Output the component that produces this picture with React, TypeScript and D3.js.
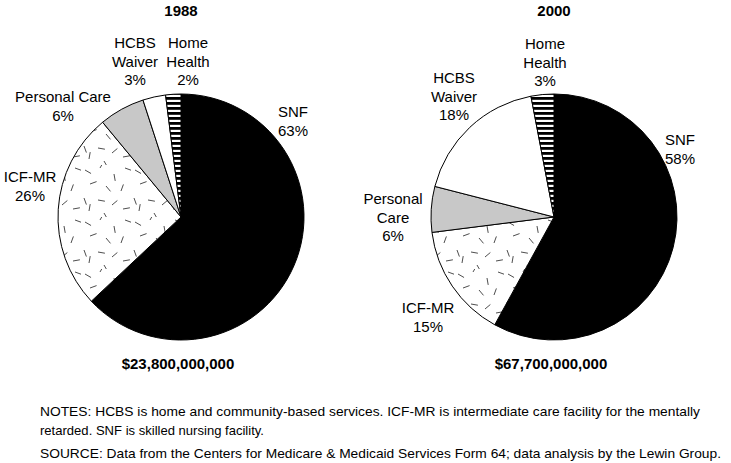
import React from "react";
import * as d3 from "d3";

// slice order, clockwise from 12 o'clock
const categories = ["SNF", "ICF-MR", "Personal Care", "HCBS Waiver", "Home Health"];
const values1988 = [63, 26, 6, 3, 2];
const values2000 = [58, 15, 6, 18, 3];
const years = ["1988", "2000"];
const totals = ["$23,800,000,000", "$67,700,000,000"];

// label lines per slice, per year
const labels1988 = [["SNF", "63%"], ["ICF-MR", "26%"], ["Personal Care", "6%"], ["HCBS", "Waiver", "3%"], ["Home", "Health", "2%"]];
const labels2000 = [["SNF", "58%"], ["ICF-MR", "15%"], ["Personal", "Care", "6%"], ["HCBS", "Waiver", "18%"], ["Home", "Health", "3%"]];

const notes = [
  "NOTES: HCBS is home and community-based services. ICF-MR is intermediate care facility for the mentally",
  "retarded. SNF is skilled nursing facility.",
];
const source = "SOURCE: Data from the Centers for Medicare & Medicaid Services Form 64; data analysis by the Lewin Group.";

const W = 731;
const H = 463;
const R = 123;
const FONT = "'Liberation Sans', Arial, Helvetica, sans-serif";

const fills = ["#000", "url(#dashes)", "#c8c8c8", "#fff", "url(#stripes)"];

// label anchors (x, first baseline) relative to the page
const labelPos1988: [number, number][] = [[293, 117], [30, 182], [63, 102], [135, 48], [188, 48]];
const labelPos2000: [number, number][] = [[680, 145], [428, 313], [393, 204], [454, 83], [545, 49]];

// little dash marks for the ICF-MR texture: [x, y, angle]
const dashMarks: [number, number, number][] = [
  [4, 5, 30], [19, 3, -60], [33, 9, 80], [9, 19, -20], [25, 21, 50],
  [40, 26, -70], [3, 33, 70], [17, 35, 10], [31, 40, -40], [44, 3, 20],
  [8, 46, -80], [23, 48, 60], [42, 44, -10],
];

const centers: [number, number][] = [[181, 217], [554, 217]];

const pie = d3.pie<number>().sort(null).value((d) => d);
const arc = d3.arc<d3.PieArcDatum<number>>().innerRadius(0).outerRadius(R);

function Pie({ values, labels, pos, cx, cy, year, total }: {
  values: number[]; labels: string[][]; pos: [number, number][]; cx: number; cy: number; year: string; total: string;
}) {
  const arcs = pie(values);
  return (
    <g>
      <text x={cx} y={16} textAnchor="middle" fontWeight="bold" fontSize={15}>{year}</text>
      <g transform={`translate(${cx},${cy})`}>
        {arcs.map((a, i) => (
          <path key={categories[i]} d={arc(a) || ""} fill={fills[i]} stroke="#000" strokeWidth={1} />
        ))}
      </g>
      {labels.map((lines, i) => (
        <text key={i} x={pos[i][0]} y={pos[i][1]} textAnchor="middle" fontSize={15}>
          {lines.map((l, j) => (
            <tspan key={j} x={pos[i][0]} dy={j === 0 ? 0 : 18.5}>{l}</tspan>
          ))}
        </text>
      ))}
      <text x={cx - 3} y={369} textAnchor="middle" fontWeight="bold" fontSize={15}>{total}</text>
    </g>
  );
}

export default function App() {
  return (
    <svg width={W} height={H} style={{ position: "absolute", left: 0, top: 0, background: "#fff" }} fontFamily={FONT}>
      <defs>
        <pattern id="stripes" patternUnits="userSpaceOnUse" width={10} height={5}>
          <rect width={10} height={5} fill="#fff" />
          <rect width={10} height={2.8} fill="#000" />
        </pattern>
        <pattern id="dashes" patternUnits="userSpaceOnUse" width={50} height={52}>
          <rect width={50} height={52} fill="#fff" />
          {dashMarks.map(([x, y, ang], i) => (
            <line key={i} x1={x} y1={y} x2={x + 7 * Math.cos((ang * Math.PI) / 180)} y2={y + 7 * Math.sin((ang * Math.PI) / 180)}
              stroke="#000" strokeWidth={0.7} />
          ))}
        </pattern>
      </defs>
      <rect width={W} height={H} fill="#fff" />
      <Pie values={values1988} labels={labels1988} pos={labelPos1988} cx={centers[0][0]} cy={centers[0][1]} year={years[0]} total={totals[0]} />
      <Pie values={values2000} labels={labels2000} pos={labelPos2000} cx={centers[1][0]} cy={centers[1][1]} year={years[1]} total={totals[1]} />
      <g fontSize={13.5}>
        <text x={40} y={416} textLength={660} lengthAdjust="spacingAndGlyphs">{notes[0]}</text>
        <text x={40} y={435} textLength={224} lengthAdjust="spacingAndGlyphs">{notes[1]}</text>
        <text x={40} y={458} textLength={681} lengthAdjust="spacingAndGlyphs">{source}</text>
      </g>
    </svg>
  );
}
